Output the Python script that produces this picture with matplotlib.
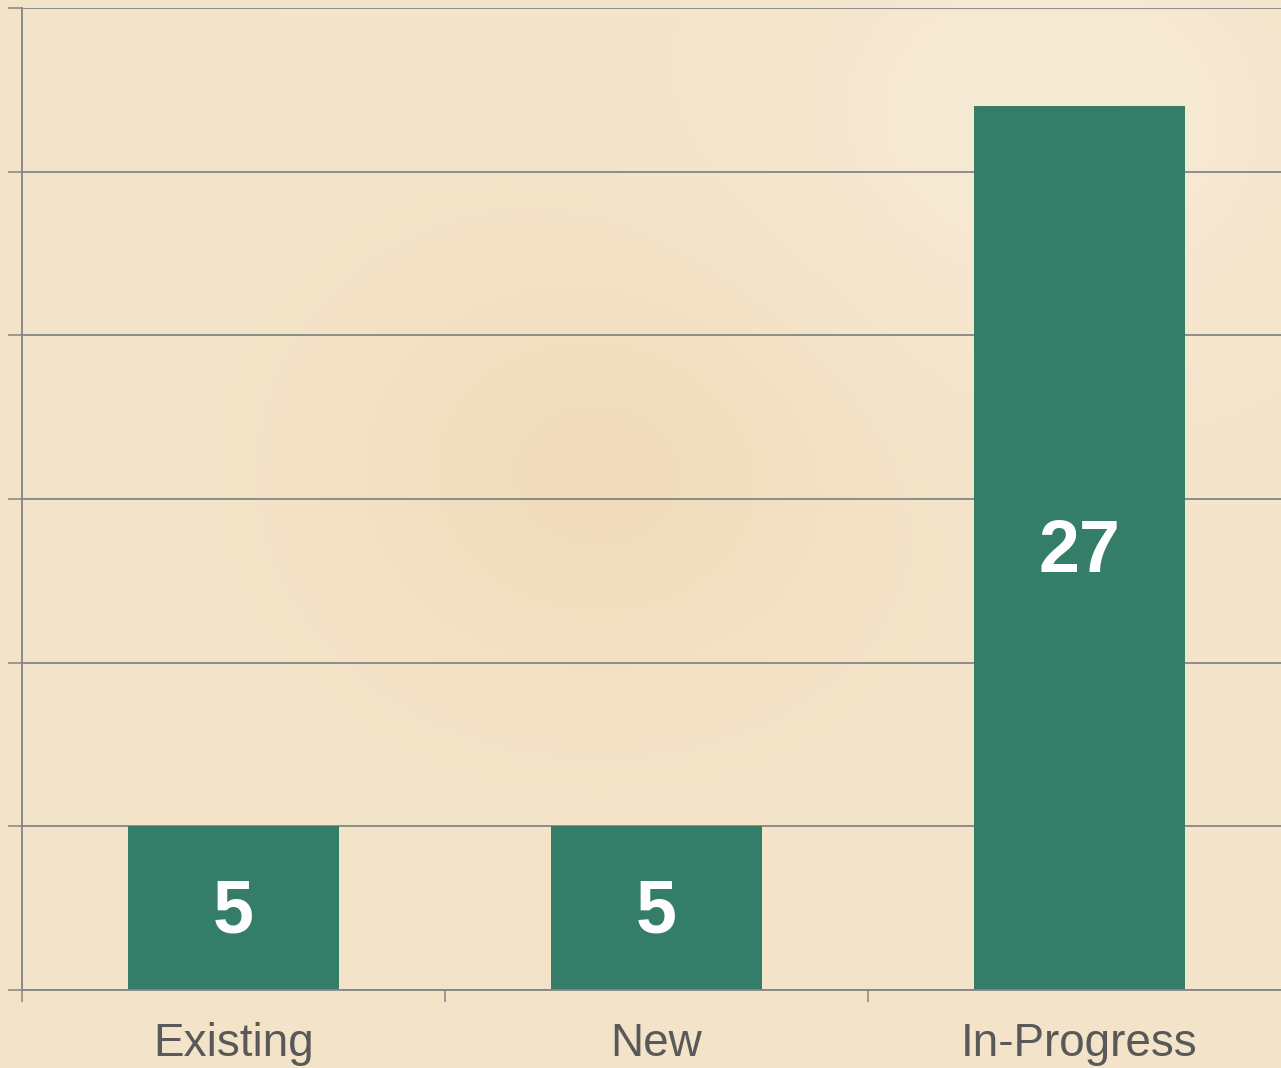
import numpy as np
import matplotlib
matplotlib.use("Agg")
import matplotlib.pyplot as plt
from matplotlib.ticker import FixedLocator

categories = ["Existing", "New", "In-Progress"]
values = [5, 5, 27]
y_ticks = [0, 5, 10, 15, 20, 25, 30]

W, H = 1281, 1068
fig = plt.figure(figsize=(W / 100, H / 100), dpi=100)

# parchment background (smooth tone variation)
bg = fig.add_axes([0, 0, 1, 1], zorder=-10)
yy, xx = np.mgrid[0:H:4, 0:W:4]
base = np.array([244, 228, 201]) / 255.0
light = np.array([248, 236, 215]) / 255.0
dark = np.array([236, 212, 172]) / 255.0
d1 = np.exp(-(((xx - 600) / 240.0) ** 2 + ((yy - 470) / 200.0) ** 2))
d2 = np.exp(-(((xx - 1050) / 300.0) ** 2 + ((yy - 120) / 250.0) ** 2))
img = base[None, None, :] * np.ones(xx.shape)[..., None]
img = img + (dark - base)[None, None, :] * (0.5 * d1)[..., None]
img = img + (light - base)[None, None, :] * (0.8 * d2)[..., None]
bg.imshow(np.clip(img, 0, 1), extent=[0, W, H, 0], aspect="auto", interpolation="bilinear")
bg.set_axis_off()

left = 22 / W
bottom = (H - 990) / H
height = (990 - 8) / H
width = (3 * 423) / W
ax = fig.add_axes([left, bottom, width, height])
ax.patch.set_alpha(0)

x = np.arange(len(categories))
bars = ax.bar(x, values, width=0.5, color="#337D69", zorder=3)
for xi, v in zip(x, values):
    ax.annotate(str(v), (xi, v / 2), xytext=(0, -3.5), textcoords="offset points",
                ha="center", va="center", color="white", fontsize=53,
                fontweight="bold", family="Liberation Sans", zorder=4)

ax.set_xlim(-0.5, 2.5)
ax.set_ylim(0, 30)

grid_color = "#858585"
ax.set_yticks(y_ticks)
ax.set_yticklabels([])
ax.yaxis.grid(True, color=grid_color, linewidth=1.3, zorder=1)
ax.tick_params(axis="y", length=10, width=1.1, color=grid_color)

ax.set_xticks(x)
ax.set_xticklabels(categories, fontsize=33, color="#595959", family="Liberation Sans")
ax.tick_params(axis="x", which="major", length=0, pad=23)
ax.xaxis.set_minor_locator(FixedLocator([-0.5, 0.5, 1.5, 2.5]))
ax.tick_params(axis="x", which="minor", length=8.6, width=1.1, color=grid_color)

for s in ["top", "right"]:
    ax.spines[s].set_visible(False)
for s in ["left", "bottom"]:
    ax.spines[s].set_color(grid_color)
    ax.spines[s].set_linewidth(1.3)
ax.spines["bottom"].set_zorder(4)

fig.savefig("out.png", dpi=100)
